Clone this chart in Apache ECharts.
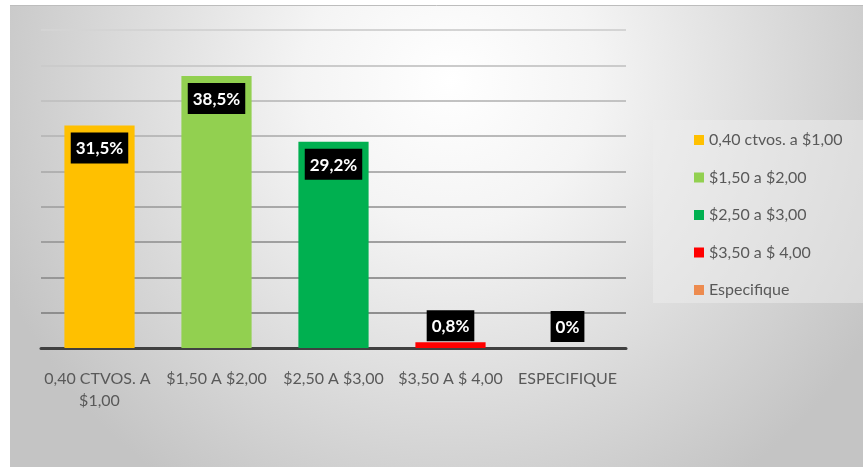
<!DOCTYPE html>
<html>
<head>
<meta charset="utf-8">
<script src="https://cdn.jsdelivr.net/npm/echarts@6/dist/echarts.min.js"></script>
<style>
  html, body { margin: 0; padding: 0; background: #ffffff; }
  #chart { width: 863px; height: 467px; }
</style>
</head>
<body>
<div id="chart"></div>
<script>
// Price ranges shown on the category axis
const categories = ['0,40 CTVOS. A $1,00', '$1,50 A $2,00', '$2,50 A $3,00', '$3,50 A $ 4,00', 'ESPECIFIQUE'];
// Names shown in the legend
const seriesNames = ['0,40 ctvos. a $1,00', '$1,50 a $2,00', '$2,50 a $3,00', '$3,50 a $ 4,00', 'Especifique'];
// Share of answers per range (%)
const values = [31.5, 38.5, 29.2, 0.8, 0];
const colors = ['#FFC000', '#92D050', '#00B050', '#FF0000', '#ED8B4F'];

const FONT = "'Liberation Sans Narrow', 'Lato', sans-serif";

const chart = echarts.init(document.getElementById('chart'), null, { renderer: 'canvas' });

const fmt = v => String(v).replace('.', ',') + '%';

// One series per range so every range gets its own legend entry
const series = values.map((v, i) => {
  const small = v < 5;
  return {
    name: seriesNames[i],
    type: 'bar',
    stack: 'total',
    barWidth: '60%',
    itemStyle: { color: colors[i] },
    label: {
      show: true,
      position: small ? 'top' : 'insideTop',
      distance: small ? (v === 0 ? 6 : 1) : 7,
      formatter: p => fmt(p.value),
      color: '#ffffff',
      fontWeight: 'bold',
      fontSize: 17,
      fontFamily: FONT,
      backgroundColor: '#000000',
      padding: [8, 5, 6, 5]
    },
    data: categories.map((c, j) => (j === i ? v : '-'))
  };
});

chart.setOption({
  animation: false,
  graphic: [{
    type: 'rect',
    z: -10,
    silent: true,
    shape: { x: 10, y: 5, width: 853, height: 462 },
    style: {
      fill: new echarts.graphic.RadialGradient(450, 80, 490, [
        { offset: 0, color: '#ffffff' },
        { offset: 0.3, color: '#f4f4f4' },
        { offset: 1, color: '#c4c4c4' }
      ], true)
    }
  }, {
    type: 'line',
    z: -9,
    silent: true,
    shape: { x1: 10, y1: 5.5, x2: 863, y2: 5.5 },
    style: { stroke: '#bdbdbd', lineWidth: 1 }
  }],
  legend: {
    orient: 'vertical',
    left: 653,
    top: 120,
    backgroundColor: 'rgba(238,238,238,0.5)',
    padding: [10, 24, 3, 41],
    itemGap: 17.5,
    itemWidth: 10,
    itemHeight: 10,
    icon: 'rect',
    textStyle: { fontFamily: FONT, fontSize: 16, color: '#595959', lineHeight: 20 },
    data: seriesNames
  },
  grid: { left: 41, right: 237, top: 30, bottom: 119 },
  xAxis: {
    type: 'category',
    data: categories,
    axisLine: { lineStyle: { color: '#404040', width: 3 } },
    axisTick: { show: false },
    axisLabel: {
      interval: 0,
      color: '#595959',
      fontFamily: FONT,
      fontSize: 16,
      lineHeight: 22,
      margin: 20,
      width: 112,
      overflow: 'break'
    }
  },
  yAxis: {
    type: 'value',
    min: 0,
    max: 45,
    interval: 5,
    axisLabel: { show: false },
    axisLine: { show: false },
    axisTick: { show: false },
    splitLine: {
      lineStyle: {
        width: 2,
        color: new echarts.graphic.LinearGradient(0, 30, 0, 320, [
          { offset: 0, color: '#d4d4d4' },
          { offset: 1, color: '#8c8c8c' }
        ], true)
      }
    }
  },
  series: series
});
</script>
</body>
</html>
